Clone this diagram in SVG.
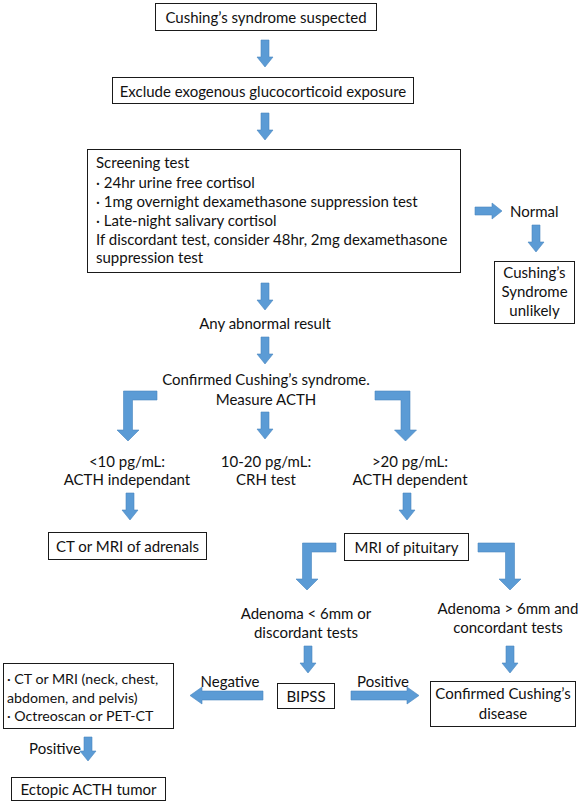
<svg xmlns="http://www.w3.org/2000/svg" width="582" height="802" viewBox="0 0 582 802">
<style>
text{font-family:Lato,"Liberation Sans",Arial,sans-serif;font-size:15px;fill:#111;dominant-baseline:central}
.c{text-anchor:middle}
.s{font-size:14.2px}
.box{fill:#fff;stroke:#1a1a1a;stroke-width:1}
.ar{fill:#5B9BD5;stroke:#4A86C0;stroke-width:0.6}
</style>
<defs>
<path id="dn" d="M-4,0 H4 V17 H8 L0,27 L-8,17 H-4 Z"/>
</defs>
<rect width="582" height="802" fill="#fff"/>
<g id="connectors">
<use href="#dn" class="ar" x="265" y="40"/>
<use href="#dn" class="ar" x="265" y="113"/>
<path class="ar" d="M475,207 H492 V203 L502,211 L492,219 V215 H475 Z"/>
<use href="#dn" class="ar" x="536" y="225"/>
<use href="#dn" class="ar" x="265" y="283"/>
<use href="#dn" class="ar" x="265" y="337"/>
<path class="ar" d="M157,391 H123.5 V430 H117 L128,441 L139,430 H132.5 V400 H157 Z"/>
<use href="#dn" class="ar" x="265" y="412"/>
<path class="ar" d="M375,391 H410 V430 H416.5 L405.5,441 L394.5,430 H401 V400 H375 Z"/>
<use href="#dn" class="ar" x="130" y="493"/>
<use href="#dn" class="ar" x="407" y="493"/>
<path class="ar" d="M336,543 H302.5 V579 H296 L307,590 L318,579 H311.5 V552 H336 Z"/>
<path class="ar" d="M478,543 H514.5 V579 H521 L510,590 L499,579 H505.5 V552 H478 Z"/>
<use href="#dn" class="ar" x="308" y="646"/>
<use href="#dn" class="ar" x="510" y="646"/>
<path class="ar" d="M351,691 H407 V687 L419,695.5 L407,704 V700 H351 Z"/>
<path class="ar" d="M263,691 H202 V687 L190,695.5 L202,704 V700 H263 Z"/>
<path class="ar" d="M84,737 H92 V751 H96 L88,761 L80,751 H84 Z"/>
<text x="230" y="681" class="c">Negative</text>
<text x="383" y="681" class="c">Positive</text>
<text x="55" y="748" class="c">Positive</text>
</g>
<g id="n1"><rect class="box" x="155.5" y="3.5" width="221" height="27"/><text x="266" y="17" class="c">Cushing’s syndrome suspected</text></g>
<g id="n2"><rect class="box" x="112.5" y="77.5" width="301" height="26"/><text x="263" y="90.5" class="c">Exclude exogenous glucocorticoid exposure</text></g>
<g id="n3"><rect class="box" x="87.5" y="149.5" width="373" height="123"/>
<text x="96" y="162">Screening test</text>
<text x="96" y="182">· 24hr urine free cortisol</text>
<text x="96" y="201">· 1mg overnight dexamethasone suppression test</text>
<text x="96" y="220">· Late-night salivary cortisol</text>
<text x="96" y="239">If discordant test, consider 48hr, 2mg dexamethasone</text>
<text x="96" y="257">suppression test</text></g>
<g id="n4"><text x="510" y="211">Normal</text></g>
<g id="n5"><rect class="box" x="494.5" y="261.5" width="80" height="62"/><text x="534.5" y="272" class="c">Cushing’s</text><text x="534.5" y="291" class="c">Syndrome</text><text x="534.5" y="310" class="c">unlikely</text></g>
<g id="n6"><text x="265" y="323" class="c">Any abnormal result</text></g>
<g id="n7"><text x="266" y="379" class="c">Confirmed Cushing’s syndrome.</text><text x="266" y="399" class="c">Measure ACTH</text></g>
<g id="n8"><text x="127" y="461" class="c">&lt;10 pg/mL:</text><text x="127" y="479" class="c">ACTH independant</text></g>
<g id="n9"><text x="266" y="461" class="c">10-20 pg/mL:</text><text x="266" y="479" class="c">CRH test</text></g>
<g id="n10"><text x="410" y="461" class="c">&gt;20 pg/mL:</text><text x="410" y="479" class="c">ACTH dependent</text></g>
<g id="n11"><rect class="box" x="48.5" y="532.5" width="158" height="27"/><text x="127.5" y="546" class="c">CT or MRI of adrenals</text></g>
<g id="n12"><rect class="box" x="344.5" y="533.5" width="124" height="27"/><text x="406.5" y="547" class="c">MRI of pituitary</text></g>
<g id="n13"><text x="306" y="613" class="c">Adenoma &lt; 6mm or</text><text x="306" y="632" class="c">discordant tests</text></g>
<g id="n14"><text x="508" y="608" class="c">Adenoma &gt; 6mm and</text><text x="508" y="627" class="c">concordant tests</text></g>
<g id="n15"><rect class="box" x="277.5" y="683.5" width="57" height="25"/><text x="306" y="696" class="c">BIPSS</text></g>
<g id="n16"><rect class="box" x="430.5" y="681.5" width="145" height="45"/><text x="503" y="693" class="c">Confirmed Cushing’s</text><text x="503" y="713" class="c">disease</text></g>
<g id="n17"><rect class="box" x="3.5" y="663.5" width="170" height="65"/><text x="7" y="678" class="s">· CT or MRI (neck, chest,</text><text x="7" y="697" class="s">abdomen, and pelvis)</text><text x="7" y="715" class="s">· Octreoscan or PET-CT</text></g>
<g id="n18"><rect class="box" x="11.5" y="777.5" width="154" height="23"/><text x="88.5" y="789" class="c">Ectopic ACTH tumor</text></g>
</svg>
